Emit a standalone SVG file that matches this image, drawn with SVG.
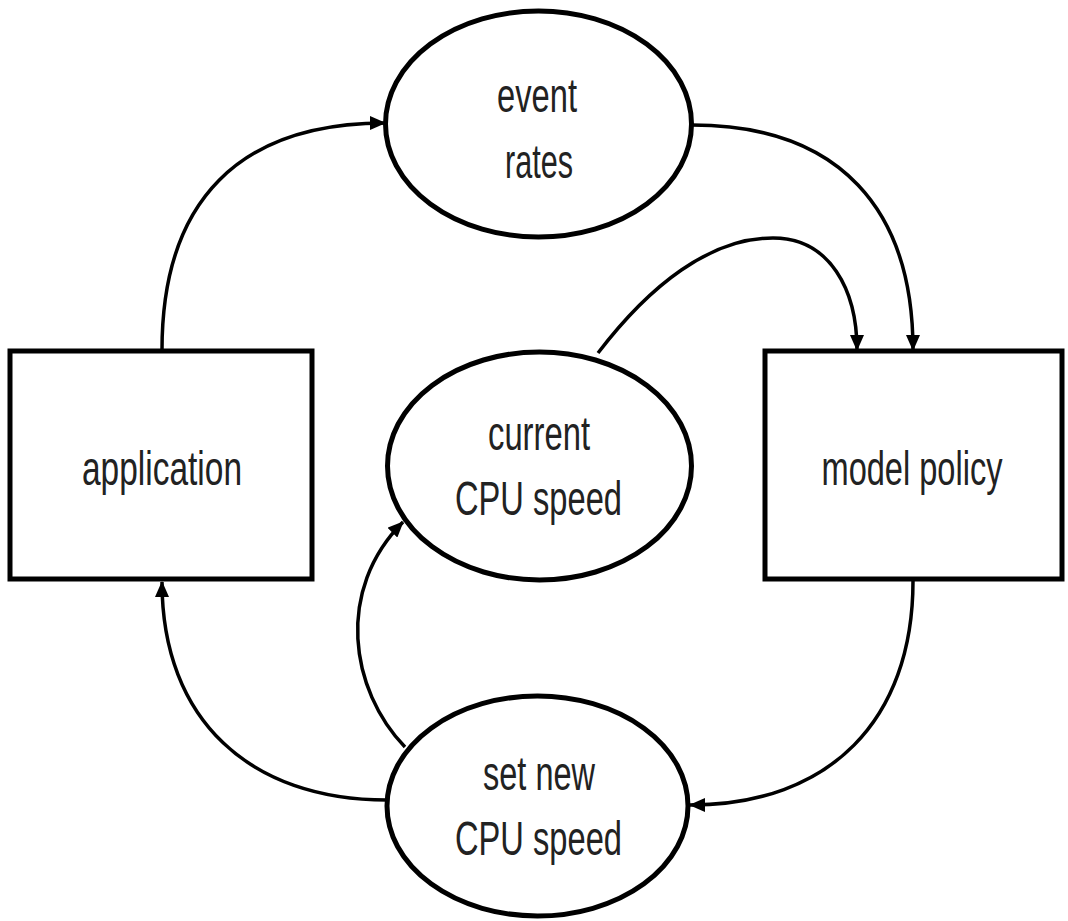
<svg xmlns="http://www.w3.org/2000/svg" width="1068" height="921" viewBox="0 0 1068 921">
<style>
.node{fill:#fff;stroke:#000;stroke-width:5}
.lbl{font-family:"Liberation Sans",Arial,sans-serif;font-size:49px;fill:#222;text-anchor:middle}
.edge{fill:none;stroke:#000;stroke-width:3.5;marker-end:url(#arr)}
</style>
<defs>
<marker id="arr" markerUnits="userSpaceOnUse" markerWidth="16" markerHeight="14" refX="15" refY="7" orient="auto">
<path d="M0,0 L16,7 L0,14 z" fill="#000"/>
</marker>
</defs>
<rect width="1068" height="921" fill="#fff"/>
<g id="connectors">
<path class="edge" d="M 162 350 C 162 200, 240 123, 385 123"/>
<path class="edge" d="M 692 125 C 840 125, 913 210, 913 350"/>
<path class="edge" d="M 598 353 C 650 285, 710 238, 773 238 C 830 238, 857 290, 857 350"/>
<path class="edge" d="M 913 581 C 913 720, 830 805, 690 805"/>
<path class="edge" d="M 387 800 C 250 800, 162 720, 162 582"/>
<path class="edge" d="M 405 747 C 350 690, 335 590, 403 522"/>
</g>
<g id="event-rates">
<ellipse class="node" cx="538.5" cy="124" rx="153" ry="113"/>
<text class="lbl" x="537" y="112" textLength="80" lengthAdjust="spacingAndGlyphs">event</text>
<text class="lbl" x="539" y="178" textLength="68" lengthAdjust="spacingAndGlyphs">rates</text>
</g>
<g id="application">
<rect class="node" x="10" y="351" width="302" height="228"/>
<text class="lbl" x="162" y="485" textLength="160" lengthAdjust="spacingAndGlyphs">application</text>
</g>
<g id="current-cpu-speed">
<ellipse class="node" cx="539.5" cy="466" rx="152" ry="114"/>
<text class="lbl" x="539" y="450" textLength="102" lengthAdjust="spacingAndGlyphs">current</text>
<text class="lbl" x="538.5" y="515" textLength="167" lengthAdjust="spacingAndGlyphs">CPU speed</text>
</g>
<g id="model-policy">
<rect class="node" x="765" y="351" width="297" height="228"/>
<text class="lbl" x="912" y="485" textLength="181" lengthAdjust="spacingAndGlyphs">model policy</text>
</g>
<g id="set-new-cpu-speed">
<ellipse class="node" cx="537.5" cy="806" rx="150.5" ry="110"/>
<text class="lbl" x="539" y="790" textLength="112" lengthAdjust="spacingAndGlyphs">set new</text>
<text class="lbl" x="538.5" y="855" textLength="167" lengthAdjust="spacingAndGlyphs">CPU speed</text>
</g>
</svg>
